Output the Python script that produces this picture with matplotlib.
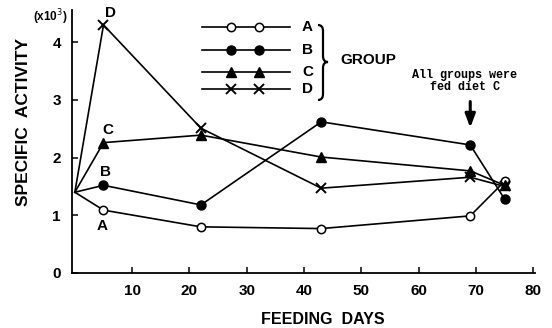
import numpy as np
import matplotlib.pyplot as plt
from matplotlib.lines import Line2D
from matplotlib.path import Path
from matplotlib.patches import PathPatch

# ---------------- data ----------------
days = [0, 5, 22, 43, 69, 75]
group_a = [1.40, 1.09, 0.80, 0.77, 0.99, 1.59]
group_b = [1.40, 1.52, 1.18, 2.62, 2.22, 1.28]
group_c = [1.40, 2.26, 2.39, 2.01, 1.77, 1.52]
group_d = [1.40, 4.30, 2.51, 1.47, 1.66, 1.50]
groups = ['A', 'B', 'C', 'D']
x_ticks = [10, 20, 30, 40, 50, 60, 70, 80]
y_ticks = [0, 1, 2, 3, 4]

SANS = 'Liberation Sans'
MONO = 'Liberation Mono'

styles = {
    'A': dict(marker='o', mfc='white', mec='black', ms=6, mew=1.1),
    'B': dict(marker='o', mfc='black', mec='black', ms=6.5),
    'C': dict(marker='^', mfc='black', mec='black', ms=7),
    'D': dict(marker='x', mec='black', ms=7, mew=1.4),
}
series = dict(zip(groups, [group_a, group_b, group_c, group_d]))

fig = plt.figure(figsize=(5.52, 3.28), dpi=100)
ax = fig.add_axes([0.1304, 0.1677, 0.8388, 0.802])

for g in groups:
    # first point (day 0) is shared, drawn as plain vertex
    ax.plot(days, series[g], color='black', lw=1.2, zorder=2)
    ax.plot(days[1:], series[g][1:], ls='none', color='black', zorder=3, **styles[g])

ax.set_xlim(-0.5, 80.3)
ax.set_ylim(0, 4.56)
ax.set_xticks(x_ticks)
ax.set_yticks(y_ticks)
ax.tick_params(direction='in', length=4, width=1.1, pad=8, labelsize=11)
for lab in ax.get_xticklabels() + ax.get_yticklabels():
    lab.set_fontfamily(SANS)
    lab.set_fontweight('bold')
ax.spines['top'].set_visible(False)
ax.spines['right'].set_visible(False)
ax.spines['left'].set_linewidth(1.3)
ax.spines['bottom'].set_linewidth(1.3)

# point labels
lab_kw = dict(fontsize=11, fontweight='bold', fontfamily=SANS, ha='center', va='center')
ax.text(6.2, 4.50, 'D', **lab_kw)
ax.text(5.8, 2.48, 'C', **lab_kw)
ax.text(5.3, 1.75, 'B', **lab_kw)
ax.text(4.8, 0.82, 'A', **lab_kw)

# legend drawn by hand
leg_y = [0.935, 0.846, 0.764, 0.700]
for g, yy in zip(groups, leg_y):
    ax.add_line(Line2D([0.281, 0.471], [yy, yy], transform=ax.transAxes,
                       color='black', lw=1.2, zorder=2))
    ax.add_line(Line2D([0.343, 0.404], [yy, yy], transform=ax.transAxes,
                       ls='none', color='black', zorder=3, **styles[g]))
    ax.text(0.497, yy, g, transform=ax.transAxes, fontsize=11, fontweight='bold',
            fontfamily=SANS, va='center', ha='left')

# curly brace (figure pixel coords -> figure fraction)
def fp(px, py):
    return (px / 552, 1 - py / 328)

brace = [fp(318, 25), fp(323, 25), fp(323, 31), fp(323, 56), fp(323, 62), fp(328, 62),
         fp(323, 62), fp(323, 68), fp(323, 94), fp(323, 100), fp(318, 100)]
codes = [Path.MOVETO, Path.CURVE3, Path.CURVE3, Path.LINETO, Path.CURVE3, Path.CURVE3,
         Path.CURVE3, Path.CURVE3, Path.LINETO, Path.CURVE3, Path.CURVE3]
fig.add_artist(PathPatch(Path(brace, codes), transform=fig.transFigure,
                         fill=False, lw=1.6, color='black'))
fig.text(340 / 552, 1 - 60 / 328, 'GROUP', fontsize=11, fontweight='bold',
         fontfamily=SANS, va='center', ha='left')

# annotation
ax.annotate('', xy=(69, 2.47), xytext=(69, 3.02),
            arrowprops=dict(arrowstyle='-|>,head_length=0.8,head_width=0.3',
                            color='black', lw=2.2))
ax.text(68.0, 3.32, 'All groups were\nfed diet C', fontsize=8.5, fontfamily=MONO,
        fontweight='bold', ha='center', va='center', linespacing=1.0)

# axis labels
fig.text(24 / 552, 1 - 122 / 328, 'SPECIFIC  ACTIVITY', rotation=90, fontsize=12.5,
         fontweight='bold', fontfamily=SANS, ha='center', va='center')
fig.text(323 / 552, 1 - 319 / 328, 'FEEDING  DAYS', fontsize=11.5,
         fontweight='bold', fontfamily=SANS, ha='center', va='center')
fig.text(50 / 552, 1 - 17 / 328, r'(x10$^{3}$)', fontsize=8.5,
         fontweight='bold', fontfamily=SANS, ha='center', va='center')

plt.savefig('out.png', dpi=100)
